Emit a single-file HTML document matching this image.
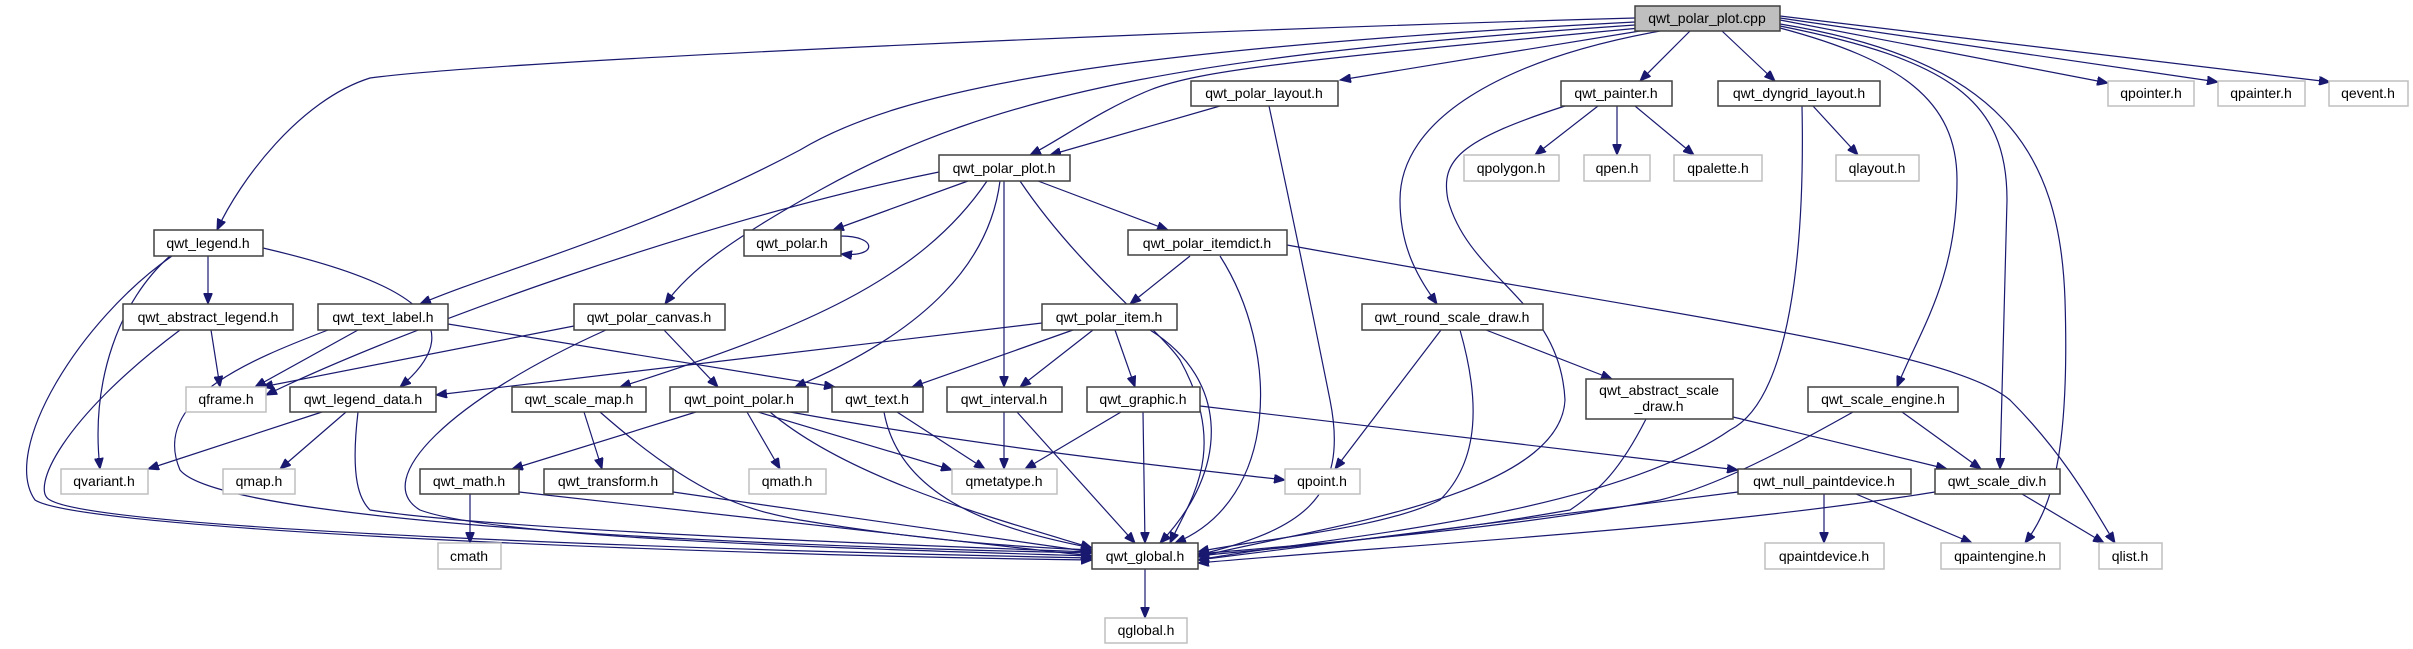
<!DOCTYPE html>
<html><head><meta charset="utf-8"><style>
html,body{margin:0;padding:0;background:#fff;}
svg{display:block;}
text{font-family:"Liberation Sans",sans-serif;font-size:14px;fill:#000;text-anchor:middle;}
.n{fill:#fff;stroke:#404040;stroke-width:1.5;}
.g{fill:#fff;stroke:#bfbfbf;stroke-width:1.5;}
.r{fill:#bfbfbf;stroke:#404040;stroke-width:1.5;}
path.e{fill:none;stroke:#191970;stroke-width:1.2;marker-end:url(#a);}
</style></head><body>
<svg width="2413" height="649" viewBox="0 0 2413 649" xmlns="http://www.w3.org/2000/svg">
<defs><marker id="a" markerUnits="userSpaceOnUse" markerWidth="12" markerHeight="9" refX="11" refY="4.5" orient="auto"><path d="M0,0 L11,4.5 L0,9 z" fill="#191970" stroke="#191970"/></marker></defs>
<g>
<path class="e" d="M1635,18 C1200,30 500,60 370,78 C300,100 240,180 217,230"/>
<path class="e" d="M1635,22 C1100,50 900,90 800,150 C650,230 500,270 420,304"/>
<path class="e" d="M1635,25 C1200,55 1000,90 820,190 C730,240 690,270 665,304"/>
<path class="e" d="M1640,28 C1300,60 1200,70 1150,90 C1100,110 1060,140 1030,155"/>
<path class="e" d="M1220,106 L1050,155"/>
<path class="e" d="M1640,31 L1340,80"/>
<path class="e" d="M1690,31 L1640,81"/>
<path class="e" d="M1722,31 L1775,81"/>
<path class="e" d="M1780,20 L2108,83"/>
<path class="e" d="M1780,18 L2218,82"/>
<path class="e" d="M1780,16 L2330,82"/>
<path class="e" d="M1660,31 C1500,60 1400,120 1400,200 C1400,250 1420,280 1437,304"/>
<path class="e" d="M1780,28 C1900,60 1957,100 1957,180 C1957,280 1920,330 1897,387"/>
<path class="e" d="M1780,26 C1950,60 2007,100 2007,200 L2000,469"/>
<path class="e" d="M1780,24 C2000,60 2060,150 2065,300 C2070,460 2050,510 2025,543"/>
<path class="e" d="M1269,106 C1300,250 1320,350 1330,400 C1350,500 1300,530 1198,555"/>
<path class="e" d="M1565,106 C1460,140 1440,160 1448,200 C1470,280 1560,300 1565,400 C1560,500 1300,530 1198,557"/>
<path class="e" d="M1598,106 L1535,155"/>
<path class="e" d="M1617,106 L1617,155"/>
<path class="e" d="M1635,106 L1694,155"/>
<path class="e" d="M1813,106 L1858,155"/>
<path class="e" d="M1802,106 C1805,250 1790,400 1730,430 C1600,520 1300,540 1198,560"/>
<path class="e" d="M939,172 C700,220 400,330 266,395"/>
<path class="e" d="M968,181 L833,230"/>
<path class="e" d="M841,236 C878,236 878,258 841,254"/>
<path class="e" d="M987,181 C920,280 800,330 620,387"/>
<path class="e" d="M1000,181 C990,260 930,330 795,387"/>
<path class="e" d="M1004,181 L1004,387"/>
<path class="e" d="M1020,181 C1080,270 1160,330 1180,360 C1230,450 1190,500 1170,543"/>
<path class="e" d="M1038,181 L1168,230"/>
<path class="e" d="M1190,256 L1130,304"/>
<path class="e" d="M1220,256 C1280,350 1280,500 1175,543"/>
<path class="e" d="M1287,245 C1700,320 1950,350 2010,400 C2070,460 2100,520 2115,543"/>
<path class="e" d="M1042,323 L436,395"/>
<path class="e" d="M1073,330 L912,387"/>
<path class="e" d="M1093,330 L1020,387"/>
<path class="e" d="M1115,330 L1135,387"/>
<path class="e" d="M1150,330 C1230,380 1230,470 1160,543"/>
<path class="e" d="M358,330 L255,387"/>
<path class="e" d="M448,324 L835,387"/>
<path class="e" d="M328,330 C250,360 150,400 180,470 C220,520 700,545 1092,553"/>
<path class="e" d="M208,256 L208,304"/>
<path class="e" d="M263,248 C400,280 480,320 400,387"/>
<path class="e" d="M170,256 C120,300 90,380 100,469"/>
<path class="e" d="M172,256 C80,320 0,450 35,500 C80,530 700,555 1092,560"/>
<path class="e" d="M211,330 L220,387"/>
<path class="e" d="M180,330 C60,420 30,490 50,500 C100,530 700,550 1092,558"/>
<path class="e" d="M574,326 L262,387"/>
<path class="e" d="M664,330 L718,387"/>
<path class="e" d="M606,330 C450,400 370,480 420,510 C500,540 900,550 1092,556"/>
<path class="e" d="M322,412 L148,469"/>
<path class="e" d="M346,412 L280,469"/>
<path class="e" d="M358,412 C350,480 360,500 370,510 C500,530 900,545 1092,552"/>
<path class="e" d="M584,412 L602,469"/>
<path class="e" d="M600,412 C700,500 750,510 800,520 C950,545 1050,548 1092,550"/>
<path class="e" d="M696,412 L512,469"/>
<path class="e" d="M747,412 L780,469"/>
<path class="e" d="M758,412 C850,440 920,460 952,470"/>
<path class="e" d="M790,412 C1000,450 1200,470 1285,480"/>
<path class="e" d="M770,412 C850,480 1000,520 1092,548"/>
<path class="e" d="M470,494 L470,543"/>
<path class="e" d="M519,492 L1092,556"/>
<path class="e" d="M673,492 L1092,552"/>
<path class="e" d="M897,412 L985,469"/>
<path class="e" d="M884,412 C900,500 1000,530 1092,548"/>
<path class="e" d="M1004,412 L1004,469"/>
<path class="e" d="M1017,412 L1135,543"/>
<path class="e" d="M1121,412 L1025,469"/>
<path class="e" d="M1143,412 L1145,543"/>
<path class="e" d="M1200,406 L1738,470"/>
<path class="e" d="M1441,330 L1335,469"/>
<path class="e" d="M1460,330 C1480,400 1480,460 1440,500 C1380,530 1250,540 1198,552"/>
<path class="e" d="M1486,330 L1612,379"/>
<path class="e" d="M1733,417 L1947,469"/>
<path class="e" d="M1646,419 C1620,470 1600,490 1570,510 C1400,540 1250,550 1198,556"/>
<path class="e" d="M1853,412 C1750,470 1700,490 1660,500 C1500,530 1300,545 1198,554"/>
<path class="e" d="M1902,412 L1981,469"/>
<path class="e" d="M1738,492 L1198,560"/>
<path class="e" d="M1824,494 L1824,543"/>
<path class="e" d="M1856,494 L1972,543"/>
<path class="e" d="M1935,492 C1700,530 1400,545 1198,563"/>
<path class="e" d="M2022,494 L2104,543"/>
<path class="e" d="M1145,569 L1145,618"/>
</g>
<g>
<rect class="r" x="1635" y="6" width="145" height="25"/><text x="1707" y="23">qwt_polar_plot.cpp</text>
<rect class="n" x="154" y="230" width="109" height="26"/><text x="208" y="248">qwt_legend.h</text>
<rect class="n" x="123" y="304" width="170" height="26"/><text x="208" y="322">qwt_abstract_legend.h</text>
<rect class="n" x="318" y="304" width="130" height="26"/><text x="383" y="322">qwt_text_label.h</text>
<rect class="n" x="574" y="304" width="151" height="26"/><text x="649" y="322">qwt_polar_canvas.h</text>
<rect class="n" x="1191" y="81" width="147" height="25"/><text x="1264" y="98">qwt_polar_layout.h</text>
<rect class="n" x="939" y="155" width="131" height="26"/><text x="1004" y="173">qwt_polar_plot.h</text>
<rect class="n" x="744" y="230" width="97" height="26"/><text x="792" y="248">qwt_polar.h</text>
<rect class="n" x="1128" y="230" width="159" height="25"/><text x="1207" y="248">qwt_polar_itemdict.h</text>
<rect class="n" x="1042" y="304" width="135" height="26"/><text x="1109" y="322">qwt_polar_item.h</text>
<rect class="n" x="1362" y="304" width="181" height="26"/><text x="1452" y="322">qwt_round_scale_draw.h</text>
<rect class="n" x="1561" y="81" width="111" height="25"/><text x="1616" y="98">qwt_painter.h</text>
<rect class="n" x="1718" y="81" width="162" height="25"/><text x="1799" y="98">qwt_dyngrid_layout.h</text>
<rect class="g" x="1464" y="155" width="95" height="26"/><text x="1511" y="173">qpolygon.h</text>
<rect class="g" x="1584" y="155" width="66" height="26"/><text x="1617" y="173">qpen.h</text>
<rect class="g" x="1674" y="155" width="88" height="26"/><text x="1718" y="173">qpalette.h</text>
<rect class="g" x="1836" y="155" width="83" height="26"/><text x="1877" y="173">qlayout.h</text>
<rect class="g" x="2108" y="81" width="86" height="25"/><text x="2151" y="98">qpointer.h</text>
<rect class="g" x="2218" y="81" width="87" height="25"/><text x="2261" y="98">qpainter.h</text>
<rect class="g" x="2329" y="81" width="79" height="25"/><text x="2368" y="98">qevent.h</text>
<rect class="g" x="186" y="387" width="80" height="25"/><text x="226" y="404">qframe.h</text>
<rect class="n" x="290" y="387" width="146" height="25"/><text x="363" y="404">qwt_legend_data.h</text>
<rect class="n" x="512" y="387" width="134" height="25"/><text x="579" y="404">qwt_scale_map.h</text>
<rect class="n" x="670" y="387" width="138" height="25"/><text x="739" y="404">qwt_point_polar.h</text>
<rect class="g" x="61" y="469" width="87" height="25"/><text x="104" y="486">qvariant.h</text>
<rect class="g" x="223" y="469" width="72" height="25"/><text x="259" y="486">qmap.h</text>
<rect class="n" x="420" y="469" width="99" height="25"/><text x="469" y="486">qwt_math.h</text>
<rect class="n" x="544" y="469" width="129" height="25"/><text x="608" y="486">qwt_transform.h</text>
<rect class="g" x="749" y="469" width="77" height="25"/><text x="787" y="486">qmath.h</text>
<rect class="g" x="438" y="543" width="63" height="26"/><text x="469" y="561">cmath</text>
<rect class="n" x="832" y="387" width="91" height="25"/><text x="877" y="404">qwt_text.h</text>
<rect class="n" x="947" y="387" width="115" height="25"/><text x="1004" y="404">qwt_interval.h</text>
<rect class="n" x="1087" y="387" width="113" height="25"/><text x="1143" y="404">qwt_graphic.h</text>
<rect class="g" x="952" y="469" width="105" height="25"/><text x="1004" y="486">qmetatype.h</text>
<rect class="g" x="1285" y="469" width="75" height="25"/><text x="1322" y="486">qpoint.h</text>
<rect class="n" x="1092" y="543" width="106" height="26"/><text x="1145" y="561">qwt_global.h</text>
<rect class="g" x="1105" y="618" width="82" height="25"/><text x="1146" y="635">qglobal.h</text>
<rect class="n" x="1586" y="379" width="147" height="40"/><text x="1659" y="395">qwt_abstract_scale</text><text x="1659" y="411">_draw.h</text>
<rect class="n" x="1808" y="387" width="150" height="25"/><text x="1883" y="404">qwt_scale_engine.h</text>
<rect class="n" x="1738" y="469" width="173" height="25"/><text x="1824" y="486">qwt_null_paintdevice.h</text>
<rect class="n" x="1935" y="469" width="125" height="25"/><text x="1997" y="486">qwt_scale_div.h</text>
<rect class="g" x="1765" y="543" width="119" height="26"/><text x="1824" y="561">qpaintdevice.h</text>
<rect class="g" x="1941" y="543" width="119" height="26"/><text x="2000" y="561">qpaintengine.h</text>
<rect class="g" x="2099" y="543" width="63" height="26"/><text x="2130" y="561">qlist.h</text>
</g>
</svg>
</body></html>
